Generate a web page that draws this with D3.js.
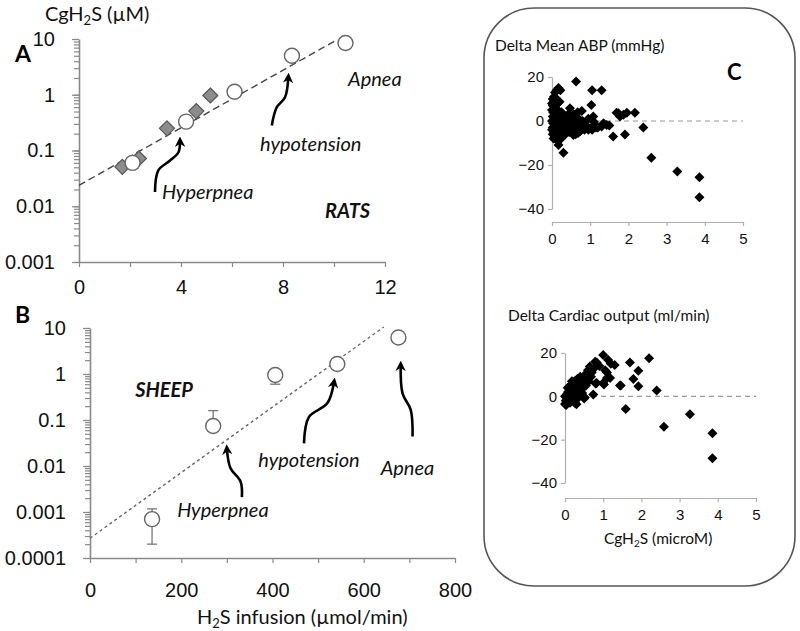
<!DOCTYPE html>
<html>
<head>
<meta charset="utf-8">
<script src="https://cdn.jsdelivr.net/npm/d3@7"></script>
<style>
body{margin:0;background:#fff;}
svg{font-family:Lato,"Open Sans",sans-serif;}
</style>
</head>
<body>
<svg id="chart" width="800" height="631"></svg>
<script>
// ---- panel A (rats) ----
var ratCircles = [[2.1,0.06],[4.2,0.33],[6.1,1.13],[8.35,5.0],[10.45,8.5]];
var ratDiamonds = [[1.7,0.051],[2.35,0.072],[3.45,0.25],[4.6,0.51],[5.15,0.97]];
var ratFit = [[0,0.0237],[10.1,9.6]];
var ratXTicks = [0,4,8,12];
var ratXMinor = [2,6,10];
var ratYTicks = [0.001,0.01,0.1,1,10];
var ratYLabels = ["0.001","0.01","0.1","1","10"];

// ---- panel B (sheep) ----
var sheepX = [136,270,406,542,676];
var sheepY = [0.0007,0.074,0.95,1.65,6.2];
var sheepErrHi = [0.00117,0.16,null,null,null];
var sheepErrLo = [0.0002,null,0.6,null,null];
var sheepFit = [[0,0.00027],[644,10.5]];
var sheepXTicks = [0,200,400,600,800];
var sheepXMinor = [100,300,500,700];
var sheepYTicks = [0.0001,0.001,0.01,0.1,1,10];
var sheepYLabels = ["0.0001","0.001","0.01","0.1","1","10"];

// ---- panel C: delta mean ABP vs CgH2S ----
var abpPoints = [
 [0.02,10],[0.05,9],[0.02,7],[0.08,6],[0.03,4],[0.1,3],[0.02,2],[0.06,1],[0.12,0],[0.03,-1],
 [0.08,-2],[0.02,-3],[0.1,-4],[0.05,-5],[0.02,-6],[0.08,-7],[0.04,-8],[0.12,-8.5],[0.15,8],[0.15,5],
 [0.18,2],[0.2,-1],[0.2,-3],[0.17,-5],[0.22,-7],[0.25,4],[0.28,1],[0.3,-2],[0.33,-4],[0.27,-6],
 [0.12,14],[0.17,15],[0.22,14],[0.08,13],[0.2,8.8],[0.35,2],[0.4,-1],[0.38,-4.8],[0.42,3],[0.47,5.8],
 [0.5,0.5],[0.52,-3],[0.56,-6.4],[0.57,2.9],[0.6,-1.5],[0.65,-4],[0.63,17.9],[0.67,4],[0.7,1],[0.73,-4.8],
 [0.75,-2],[0.78,4.5],[0.8,0],[0.82,-1],[0.85,-3.5],[0.9,-2],[0.95,1],[1.0,-3.3],[1.03,7.3],[1.05,14],
 [1.08,2],[1.1,-0.5],[1.13,-1.8],[1.2,-3],[1.3,-2.5],[1.3,14],[1.35,-1],[1.43,-1.8],[1.5,-2],[1.6,-7.1],
 [1.69,3.8],[1.74,3.5],[1.78,2],[1.87,2.8],[1.91,-6.1],[1.96,3.8],[2.17,3.8],[2.39,-3],[0.17,-10.9],[0.3,-14.4],
 [2.6,-16.7],[3.28,-23],[3.86,-25.6],[3.86,-34.7],[0.05,11],[0.1,10.5],[0.0,8],[0.0,5],[0.0,0],[0.0,-4],
 [0.07,-3],[0.13,-6],[0.25,-2],[0.24,-8],[0.35,-6],[0.45,-5],[0.46,-2],[0.55,1],[0.62,-6],[0.68,-5.5],
 [0.85,-4],[0.95,-4],[1.05,-4],[1.15,-3]
];

// ---- panel C: delta cardiac output vs CgH2S ----
var coPoints = [
 [0.0,-3.5],[0.02,-2],[0.0,0],[0.05,1],[0.03,-4],[0.08,2],[0.1,0],[0.1,-2.5],[0.12,3],[0.15,1],
 [0.15,5],[0.18,-1],[0.2,2],[0.2,6],[0.22,4],[0.25,-3],[0.25,7],[0.27,3],[0.3,-3.6],[0.3,5],
 [0.32,8],[0.35,2],[0.35,6],[0.38,4],[0.4,9],[0.42,3],[0.45,6],[0.47,4],[0.5,9],[0.5,-1],
 [0.52,-0.5],[0.55,5],[0.57,10.8],[0.6,12],[0.62,7],[0.65,13.8],[0.68,9],[0.7,11],[0.74,0.9],[0.74,12.5],
 [0.79,16],[0.8,5.9],[0.83,15.6],[0.83,6.2],[0.9,14],[1.0,19.1],[1.0,6.2],[1.02,5.5],[1.05,12],[1.1,11],
 [1.1,8.5],[1.13,16.8],[1.18,8.5],[1.2,15],[1.3,14.5],[1.44,5],[1.46,5],[1.59,-5.9],[1.7,15.6],[1.79,8],
 [1.92,11.8],[1.92,4.7],[2.2,17.6],[2.4,2.7],[2.59,-14],[3.27,-8.3],[3.86,-17],[3.86,-28.6],[0.07,4],[0.13,-3],
 [0.28,1],[0.45,1.5],[0.33,-1],[0.05,-1],[0.18,7],[0.4,1]
];
var cXTicks = [0,1,2,3,4,5];
var cYTicks = [20,0,-20,-40];

// annotation arrows, in data units of each panel
var ratArrows = [
 [[2.98,0.018],[3.11,0.044],[3.57,0.066],[3.9,0.093],[3.96,0.15]],
 [[7.56,0.28],[7.75,0.59],[8.08,0.9],[8.21,2.1]]
];
var sheepArrows = [
 [[333,0.0021],[330,0.0046],[308,0.0089],[300,0.024]],
 [[469,0.031],[480,0.117],[520,0.23],[535,0.68]],
 [[707,0.044],[703,0.166],[685,0.38],[681,1.58]]
];

var svg = d3.select("#chart");
var axisGrey = "#8a8a8a";

svg.append("defs").append("marker")
  .attr("id","head").attr("viewBox","0 0 10 10")
  .attr("refX",6).attr("refY",5)
  .attr("markerWidth",4).attr("markerHeight",4)
  .attr("orient","auto")
  .append("path").attr("d","M0,0 L10,5 L0,10 L3,5 Z").attr("fill","#000");

function diamond(r){ return "M0,"+(-r)+"L"+r+",0L0,"+r+"L"+(-r)+",0Z"; }

function styleAxis(g, col){
  g.select(".domain").attr("stroke",col).attr("stroke-width",1.6);
  g.selectAll(".tick line").attr("stroke",col).attr("stroke-width",1.2);
  g.selectAll(".tick text").attr("fill","#111");
}

function logPanel(xs, ys, xTicks, xMinor, yTicks, yLabels, xPad, fontSize){
  var y0 = ys.range()[0];
  var x0 = xs.range()[0];
  // minor log ticks
  var gm = svg.append("g").attr("transform","translate("+x0+",0)")
    .call(d3.axisLeft(ys).tickValues(ys.ticks()).tickSize(5).tickFormat(""));
  styleAxis(gm, axisGrey);
  gm.select(".domain").remove();
  var gy = svg.append("g").attr("transform","translate("+x0+",0)")
    .call(d3.axisLeft(ys).tickValues(yTicks).tickSize(7).tickSizeOuter(0).tickPadding(17)
      .tickFormat(function(d,i){ return yLabels[i]; }));
  styleAxis(gy, axisGrey);
  gy.selectAll(".tick text").attr("font-size",fontSize);
  var gxm = svg.append("g").attr("transform","translate(0,"+y0+")")
    .call(d3.axisBottom(xs).tickValues(xMinor).tickSize(5).tickFormat(""));
  styleAxis(gxm, axisGrey);
  gxm.select(".domain").remove();
  var gx = svg.append("g").attr("transform","translate(0,"+y0+")")
    .call(d3.axisBottom(xs).tickValues(xTicks).tickSize(5).tickSizeOuter(0).tickPadding(xPad));
  styleAxis(gx, axisGrey);
  gx.selectAll(".tick text").attr("font-size",fontSize);
}

function drawArrows(list, xs, ys){
  var line = d3.line().x(function(d){return xs(d[0]);}).y(function(d){return ys(d[1]);})
    .curve(d3.curveCatmullRom);
  svg.selectAll(null).data(list).enter().append("path")
    .attr("d",line).attr("fill","none").attr("stroke","#000")
    .attr("stroke-width",2.6).attr("marker-end","url(#head)");
}

function note(txt, xs, ys, p, weight){
  svg.append("text").attr("x",xs(p[0])).attr("y",ys(p[1]))
    .attr("font-size",20).attr("font-style","italic")
    .attr("font-weight",weight||"normal").attr("fill","#111").text(txt);
}

// ================= panel A =================
var xA = d3.scaleLinear().domain([0,12]).range([79,385]);
var yA = d3.scaleLog().domain([0.001,10]).range([262,39]);
logPanel(xA, yA, ratXTicks, ratXMinor, ratYTicks, ratYLabels, 13, 20);

svg.append("path")
  .attr("d", d3.line().x(function(d){return xA(d[0]);}).y(function(d){return yA(d[1]);})(ratFit))
  .attr("stroke","#444").attr("stroke-width",1.4).attr("stroke-dasharray","7,4").attr("fill","none");

svg.selectAll(".ratD").data(ratDiamonds).enter().append("path")
  .attr("class","ratD").attr("d",diamond(7.5))
  .attr("transform",function(d){return "translate("+xA(d[0])+","+yA(d[1])+")";})
  .attr("fill","#8c8c8c").attr("stroke","#555").attr("stroke-width",1.2);

svg.selectAll(".ratC").data(ratCircles).enter().append("circle")
  .attr("class","ratC").attr("cx",function(d){return xA(d[0]);})
  .attr("cy",function(d){return yA(d[1]);}).attr("r",7.5)
  .attr("fill","#fff").attr("stroke","#666").attr("stroke-width",1.4);

drawArrows(ratArrows, xA, yA);
note("Hyperpnea", xA, yA, [3.25,0.0133]);
note("hypotension", xA, yA, [7.1,0.098]);
note("Apnea", xA, yA, [10.55,1.45]);
note("RATS", xA, yA, [9.65,0.0061], "bold");

var ttl = svg.append("text").attr("x",45).attr("y",21).attr("font-size",20).attr("fill","#111");
ttl.append("tspan").text("CgH");
ttl.append("tspan").attr("font-size",13).attr("dy",4).text("2");
ttl.append("tspan").attr("dy",-4).text("S (µM)");
svg.append("text").attr("x",15).attr("y",62).attr("font-size",23).attr("font-weight","bold").text("A");

// ================= panel B =================
var xB = d3.scaleLinear().domain([0,800]).range([90,455]);
var yB = d3.scaleLog().domain([0.0001,10]).range([558,328]);
logPanel(xB, yB, sheepXTicks, sheepXMinor, sheepYTicks, sheepYLabels, 20, 20);

svg.append("path")
  .attr("d", d3.line().x(function(d){return xB(d[0]);}).y(function(d){return yB(d[1]);})(sheepFit))
  .attr("stroke","#666").attr("stroke-width",1.3).attr("stroke-dasharray","3,3").attr("fill","none");

var sheep = sheepX.map(function(x,i){ return {x:x, y:sheepY[i], hi:sheepErrHi[i], lo:sheepErrLo[i]}; });
var eb = svg.append("g").attr("stroke","#777").attr("stroke-width",1.3);
sheep.forEach(function(d){
  [d.hi, d.lo].forEach(function(e){
    if (e === null) return;
    eb.append("line").attr("x1",xB(d.x)).attr("x2",xB(d.x)).attr("y1",yB(d.y)).attr("y2",yB(e));
    eb.append("line").attr("x1",xB(d.x)-5).attr("x2",xB(d.x)+5).attr("y1",yB(e)).attr("y2",yB(e));
  });
});
svg.selectAll(".sheepC").data(sheep).enter().append("circle")
  .attr("class","sheepC").attr("cx",function(d){return xB(d.x);})
  .attr("cy",function(d){return yB(d.y);}).attr("r",7.5)
  .attr("fill","#fff").attr("stroke","#666").attr("stroke-width",1.4);

drawArrows(sheepArrows, xB, yB);
note("SHEEP", xB, yB, [99,0.32], "bold");
note("Hyperpnea", xB, yB, [191,0.00079]);
note("hypotension", xB, yB, [369,0.0097]);
note("Apnea", xB, yB, [637,0.0063]);

svg.append("text").attr("x",15).attr("y",323).attr("font-size",23).attr("font-weight","bold").text("B");
var xl = svg.append("text").attr("x",197).attr("y",624).attr("font-size",20).attr("fill","#111");
xl.append("tspan").text("H");
xl.append("tspan").attr("font-size",13).attr("dy",4).text("2");
xl.append("tspan").attr("dy",-4).text("S infusion (µmol/min)");

// ================= panel C =================
svg.append("rect").attr("x",484).attr("y",8).attr("width",311).attr("height",578)
  .attr("rx",50).attr("ry",50).attr("fill","none").attr("stroke","#555").attr("stroke-width",1.6);

function scatterPanel(pts, xs, ys, axisY, title, titleY){
  var cg = "#b0b0b0";
  var gy = svg.append("g").attr("transform","translate("+xs.range()[0]+",0)")
    .call(d3.axisLeft(ys).tickValues(cYTicks).tickSize(4).tickSizeOuter(0).tickPadding(4)
      .tickFormat(d3.format("d")));
  styleAxis(gy, cg);
  gy.select(".domain").attr("stroke-width",1.2);
  gy.selectAll(".tick text").attr("font-size",15);
  var gx = svg.append("g").attr("transform","translate(0,"+axisY+")")
    .call(d3.axisBottom(xs).tickValues(cXTicks).tickSize(4).tickSizeOuter(0).tickPadding(7)
      .tickFormat(d3.format("d")));
  styleAxis(gx, cg);
  gx.select(".domain").attr("stroke-width",1.2);
  gx.selectAll(".tick text").attr("font-size",15);
  svg.append("line").attr("x1",xs(0)).attr("x2",xs(5)).attr("y1",ys(0)).attr("y2",ys(0))
    .attr("stroke","#999").attr("stroke-width",1.2).attr("stroke-dasharray","5,4");
  svg.append("g").selectAll("path").data(pts).enter().append("path")
    .attr("d",diamond(5))
    .attr("transform",function(d){return "translate("+xs(d[0])+","+ys(d[1])+")";})
    .attr("fill","#000");
  svg.append("text").attr("x",xs.range()[0]-57).attr("y",titleY).attr("font-size",15.5)
    .attr("fill","#111").text(title);
}

var xC1 = d3.scaleLinear().domain([0,5]).range([552,743]);
var yC1 = d3.scaleLinear().domain([-40,20]).range([209,77]);
scatterPanel(abpPoints, xC1, yC1, 222, "Delta Mean ABP (mmHg)", 51);
svg.append("text").attr("x",727).attr("y",80).attr("font-size",22).attr("font-weight","bold").text("C");

var xC2 = d3.scaleLinear().domain([0,5]).range([565,756]);
var yC2 = d3.scaleLinear().domain([-40,20]).range([483,353]);
scatterPanel(coPoints, xC2, yC2, 498, "Delta Cardiac output (ml/min)", 321);
var cl = svg.append("text").attr("x",604).attr("y",544).attr("font-size",15.5).attr("fill","#111");
cl.append("tspan").text("CgH");
cl.append("tspan").attr("font-size",10).attr("dy",3).text("2");
cl.append("tspan").attr("dy",-3).text("S (microM)");
</script>
</body>
</html>
